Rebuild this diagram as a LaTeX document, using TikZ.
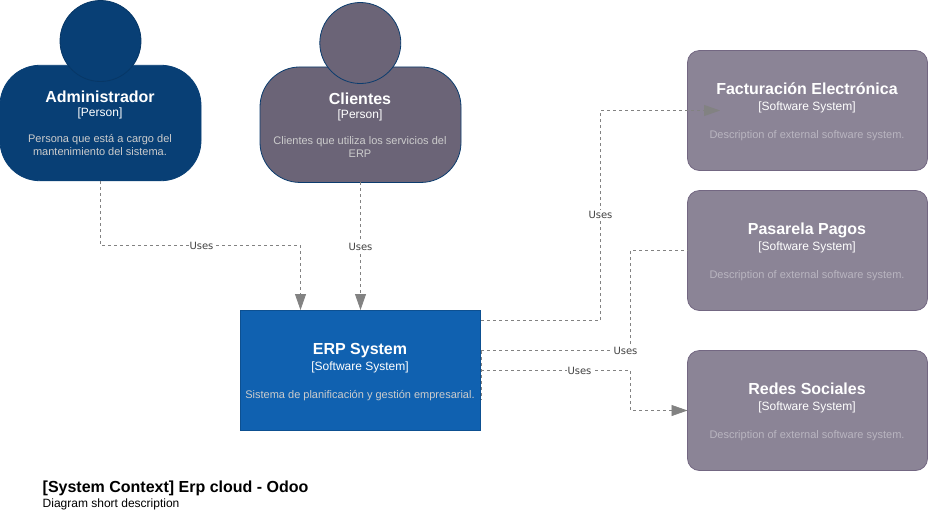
\documentclass[tikz,border=0pt]{standalone}
\usepackage{fontspec}
\setmainfont{Liberation Sans}
\newfontfamily\labelfont{DejaVu Sans}
\usetikzlibrary{arrows.meta}
\definecolor{adminfill}{HTML}{083F75}
\definecolor{adminline}{HTML}{073766}
\definecolor{clientfill}{HTML}{6B6477}
\definecolor{clientline}{HTML}{0B3C6E}
\definecolor{extfill}{HTML}{8B8496}
\definecolor{extline}{HTML}{736782}
\definecolor{erpfill}{HTML}{1061B0}
\definecolor{erpline}{HTML}{0D5091}
\definecolor{conn}{HTML}{828282}
\definecolor{desc}{HTML}{CCCCCC}
\definecolor{extdesc}{HTML}{B9B5C0}
\definecolor{lbl}{HTML}{404040}
\tikzset{
  x=1pt,y=1pt,
  txt/.style={inner sep=0pt,outer sep=0pt,align=center,text=white},
  nametxt/.style={txt,anchor=base,font=\fontsize{16}{16}\selectfont\bfseries},
  typetxt/.style={txt,anchor=base,font=\fontsize{12}{12}\selectfont},
  desctxt/.style={txt,text=desc,font=\fontsize{11}{13}\selectfont},
  extdesctxt/.style={txt,anchor=base,text=extdesc,font=\fontsize{11}{13}\selectfont},
  bodybox/.style={draw,line width=0.8pt,rounded corners=40pt,minimum width=201pt,minimum height=115.5pt,inner sep=0pt},
  headcirc/.style={draw,circle,line width=0.8pt,minimum size=81pt,inner sep=0pt},
  extbox/.style={draw=extline,fill=extfill,line width=0.8pt,rounded corners=12pt,minimum width=240pt,minimum height=120pt,inner sep=0pt},
  erpbox/.style={draw=erpline,fill=erpfill,line width=0.8pt,minimum width=240.5pt,minimum height=120pt,inner sep=0pt},
  uses/.style={draw=conn,line width=0.75pt,dash pattern=on 3pt off 3pt},
  tip/.style={-{Triangle[length=16pt,width=11pt,color=conn]}},
  edgelabel/.style={fill=white,inner sep=0.6pt,text=lbl,font=\labelfont\fontsize{10}{10}\selectfont}
}
\begin{document}
\begin{tikzpicture}[yscale=-1]
\useasboundingbox (0,0) rectangle (928,512);
% Persons
\node[bodybox,draw=adminfill,fill=adminfill] (adminbody) at (100.5,123) {};
\node[headcirc,draw=adminline,fill=adminfill] (adminhead) at (100.5,41) {};
\node[bodybox,draw=clientline,fill=clientfill] (clientbody) at (360.5,124.7) {};
\node[headcirc,draw=clientline,fill=clientfill] (clienthead) at (360.3,43) {};
% Systems
\node[erpbox] (erp) at (360.5,370.5) {};
\node[extbox] (fact) at (807.5,110.5) {};
\node[extbox] (pago) at (807.5,250.5) {};
\node[extbox] (redes) at (807.5,410.5) {};
% Texts
\node[nametxt] (t1) at (100,102) {Administrador};
\node[typetxt] (t2) at (100,116) {[Person]};
\node[desctxt] (t3) at (100,145) {Persona que está a cargo del\\mantenimiento del sistema.};
\node[nametxt] (t4) at (360,104) {Clientes};
\node[typetxt] (t5) at (360,118) {[Person]};
\node[desctxt] (t6) at (360,147) {Clientes que utiliza los servicios del\\ERP};
\node[nametxt] (t7) at (360,354) {ERP System};
\node[typetxt] (t8) at (360,370) {[Software System]};
\node[extdesctxt,text=desc] (t9) at (360,398) {Sistema de planificación y gestión empresarial.};
\node[nametxt] (t10) at (807,94) {Facturación Electrónica};
\node[typetxt] (t11) at (807,110) {[Software System]};
\node[extdesctxt] (t12) at (807,138) {Description of external software system.};
\node[nametxt] (t13) at (807,234) {Pasarela Pagos};
\node[typetxt] (t14) at (807,250) {[Software System]};
\node[extdesctxt] (t15) at (807,278) {Description of external software system.};
\node[nametxt] (t16) at (807,394) {Redes Sociales};
\node[typetxt] (t17) at (807,410) {[Software System]};
\node[extdesctxt] (t18) at (807,438) {Description of external software system.};
% Connector ends
\coordinate (c1s) at (100.5,181);
\coordinate (c1a) at (100.5,245.5);
\coordinate (c1b) at (300.5,245.5);
\coordinate (c1e) at (300.5,310);
\coordinate (c2s) at (360.5,182);
\coordinate (c2e) at (360.5,310);
\coordinate (c3s) at (481,320.5);
\coordinate (c3a) at (600.5,320.5);
\coordinate (c3b) at (600.5,110.5);
\coordinate (c3e) at (720,110.5);
\coordinate (c4s) at (481,350.5);
\coordinate (c4a) at (630.5,350.5);
\coordinate (c4b) at (630.5,250.5);
\coordinate (c4e) at (687.5,250.5);
\coordinate (c5s) at (481,370.5);
\coordinate (c5a) at (630.5,370.5);
\coordinate (c5b) at (630.5,410.5);
\coordinate (c5e) at (687.5,410.5);
\coordinate (c6s) at (481.5,351);
\coordinate (c6e) at (481.5,400);
% Connectors
\draw[uses,tip] (c1s) -- (c1a) -- (c1b) -- (c1e);
\node[edgelabel] (l1) at (201.5,245.5) {Uses};
\draw[uses,tip] (c2s) -- (c2e);
\node[edgelabel] (l2) at (360.5,246.5) {Uses};
\draw[uses,tip] (c3s) -- (c3a) -- (c3b) -- (c3e);
\node[edgelabel] (l3) at (600.5,214.5) {Uses};
\draw[uses] (c4s) -- (c4a) -- (c4b) -- (c4e);
\node[edgelabel] (l4) at (625.5,350.5) {Uses};
\draw[uses,tip] (c5s) -- (c5a) -- (c5b) -- (c5e);
\node[edgelabel] (l5) at (579.5,370.5) {Uses};
\draw[uses] (c6s) -- (c6e);
% Caption
\node[anchor=base west,inner sep=0pt,font=\fontsize{16}{16}\selectfont\bfseries] (cap) at (42.5,492) {[System Context] Erp cloud - Odoo};
\node[anchor=base west,inner sep=0pt,font=\fontsize{12}{12}\selectfont] (sub) at (42.5,507) {Diagram short description};
\end{tikzpicture}
\end{document}
